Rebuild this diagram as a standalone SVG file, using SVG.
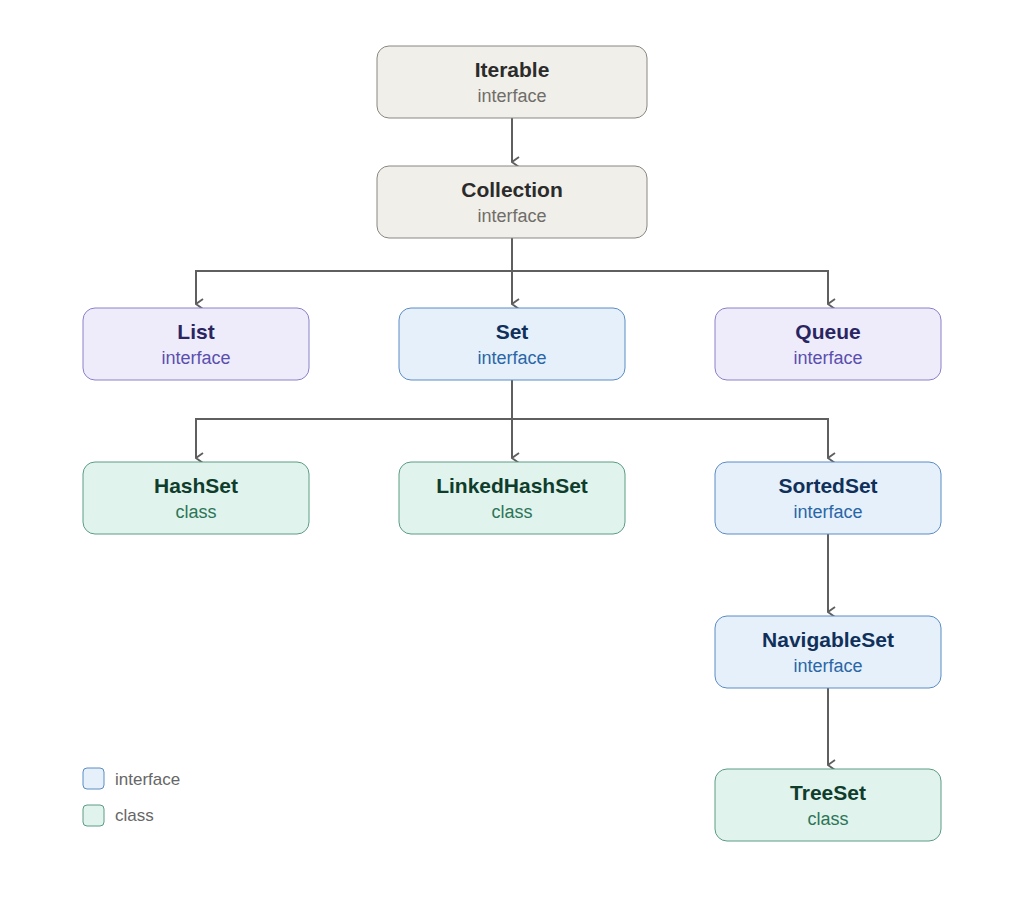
<svg xmlns="http://www.w3.org/2000/svg" width="1024" height="904" viewBox="0 0 1024 904">
<style>
text{font-family:"Liberation Sans",Arial,sans-serif;text-anchor:middle}
.t{font-size:21px;font-weight:bold}
.s{font-size:18px}
.g rect{fill:#f1efe9;stroke:#8a8782}.g .t{fill:#2b2b2b}.g .s{fill:#6f6d69}
.p rect{fill:#eeecfb;stroke:#8b80c8}.p .t{fill:#2a2560}.p .s{fill:#5a4fae}
.b rect{fill:#e5f0fb;stroke:#5b8cc4}.b .t{fill:#10305a}.b .s{fill:#2a66a6}
.c rect{fill:#e0f3ec;stroke:#5c9c82}.c .t{fill:#0f3d2c}.c .s{fill:#2d7558}
.e path{fill:none;stroke:#5f5f5f;stroke-width:2}
.l{font-size:17px;fill:#666;text-anchor:start}
</style>
<defs><marker id="a" viewBox="0 0 12 12" refX="6" refY="11" markerWidth="12" markerHeight="12" markerUnits="userSpaceOnUse" orient="auto-start-reverse"><path d="M1,4 L6,11 L11,4" fill="none" stroke="#5f5f5f" stroke-width="1.8"/></marker></defs>
<rect width="1024" height="904" fill="#fff"/>
<g class="e">
<path d="M512,118 V162" marker-end="url(#a)"/>
<path d="M512,238 V304" marker-end="url(#a)"/>
<path d="M512,271 H196 V304" marker-end="url(#a)"/>
<path d="M512,271 H828 V304" marker-end="url(#a)"/>
<path d="M512,380 V458" marker-end="url(#a)"/>
<path d="M512,419 H196 V458" marker-end="url(#a)"/>
<path d="M512,419 H828 V458" marker-end="url(#a)"/>
<path d="M828,534 V612" marker-end="url(#a)"/>
<path d="M828,688 V765" marker-end="url(#a)"/>
</g>
<g id="iterable" class="g"><rect x="377" y="46" width="270" height="72" rx="12"/><text class="t" x="512" y="77">Iterable</text><text class="s" x="512" y="102">interface</text></g>
<g id="collection" class="g"><rect x="377" y="166" width="270" height="72" rx="12"/><text class="t" x="512" y="197">Collection</text><text class="s" x="512" y="222">interface</text></g>
<g id="list" class="p"><rect x="83" y="308" width="226" height="72" rx="12"/><text class="t" x="196" y="339">List</text><text class="s" x="196" y="364">interface</text></g>
<g id="set" class="b"><rect x="399" y="308" width="226" height="72" rx="12"/><text class="t" x="512" y="339">Set</text><text class="s" x="512" y="364">interface</text></g>
<g id="queue" class="p"><rect x="715" y="308" width="226" height="72" rx="12"/><text class="t" x="828" y="339">Queue</text><text class="s" x="828" y="364">interface</text></g>
<g id="hashset" class="c"><rect x="83" y="462" width="226" height="72" rx="12"/><text class="t" x="196" y="493">HashSet</text><text class="s" x="196" y="518">class</text></g>
<g id="linkedhashset" class="c"><rect x="399" y="462" width="226" height="72" rx="12"/><text class="t" x="512" y="493">LinkedHashSet</text><text class="s" x="512" y="518">class</text></g>
<g id="sortedset" class="b"><rect x="715" y="462" width="226" height="72" rx="12"/><text class="t" x="828" y="493">SortedSet</text><text class="s" x="828" y="518">interface</text></g>
<g id="navigableset" class="b"><rect x="715" y="616" width="226" height="72" rx="12"/><text class="t" x="828" y="647">NavigableSet</text><text class="s" x="828" y="672">interface</text></g>
<g id="treeset" class="c"><rect x="715" y="769" width="226" height="72" rx="12"/><text class="t" x="828" y="800">TreeSet</text><text class="s" x="828" y="825">class</text></g>
<g id="legend">
<g class="b"><rect x="83" y="768" width="21" height="21" rx="4"/></g><text class="l" x="115" y="785">interface</text>
<g class="c"><rect x="83" y="805" width="21" height="21" rx="4"/></g><text class="l" x="115" y="821">class</text>
</g>
</svg>
